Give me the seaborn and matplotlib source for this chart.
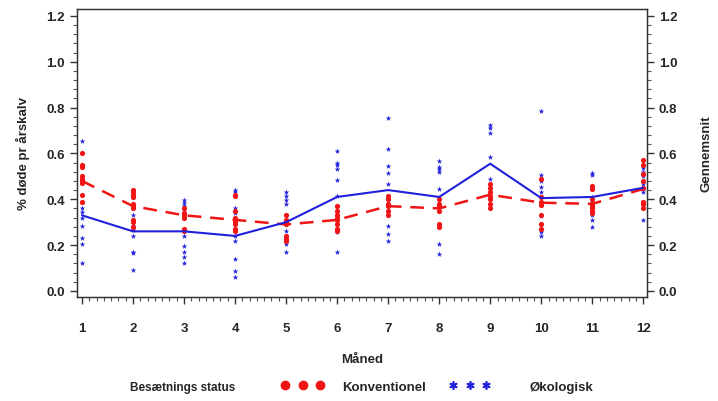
import numpy as np
import pandas as pd
import seaborn as sb
from matplotlib import pyplot as plt
from matplotlib.lines import Line2D
from matplotlib.ticker import AutoMinorLocator, FormatStrFormatter

# Data aflaest fra figuren.
maaneder = list(range(1, 13))

konv_gns = [0.48, 0.37, 0.33, 0.31, 0.29, 0.31, 0.37, 0.36, 0.42, 0.385, 0.38, 0.445]
oko_gns = [0.33, 0.26, 0.26, 0.24, 0.30, 0.41, 0.44, 0.41, 0.555, 0.405, 0.41, 0.45]

# Enkelte besaetninger pr maaned.
konv_punkter = [
    [0.60, 0.55, 0.54, 0.50, 0.49, 0.48, 0.47, 0.42, 0.39],
    [0.44, 0.43, 0.42, 0.41, 0.38, 0.37, 0.36, 0.31, 0.30, 0.28],
    [0.36, 0.34, 0.33, 0.32, 0.27, 0.26],
    [0.42, 0.415, 0.35, 0.32, 0.30, 0.29, 0.27, 0.26],
    [0.33, 0.31, 0.30, 0.29, 0.24, 0.225, 0.22],
    [0.37, 0.35, 0.33, 0.32, 0.31, 0.29, 0.27, 0.26],
    [0.415, 0.40, 0.38, 0.37, 0.35, 0.33],
    [0.40, 0.38, 0.37, 0.35, 0.29, 0.28],
    [0.465, 0.45, 0.43, 0.415, 0.40, 0.38, 0.36],
    [0.49, 0.41, 0.39, 0.375, 0.33, 0.29, 0.27],
    [0.46, 0.445, 0.40, 0.38, 0.37, 0.36, 0.35, 0.34],
    [0.57, 0.55, 0.51, 0.48, 0.45, 0.39, 0.38, 0.36],
]
oko_punkter = [
    [0.655, 0.39, 0.36, 0.345, 0.32, 0.285, 0.23, 0.205, 0.12],
    [0.41, 0.36, 0.33, 0.285, 0.265, 0.24, 0.17, 0.165, 0.09],
    [0.395, 0.385, 0.37, 0.355, 0.34, 0.27, 0.24, 0.195, 0.17, 0.15, 0.12],
    [0.44, 0.43, 0.36, 0.34, 0.27, 0.24, 0.22, 0.14, 0.085, 0.06],
    [0.43, 0.415, 0.395, 0.38, 0.33, 0.31, 0.29, 0.26, 0.205, 0.17],
    [0.61, 0.56, 0.55, 0.53, 0.485, 0.415, 0.37, 0.255, 0.17],
    [0.755, 0.62, 0.545, 0.515, 0.465, 0.40, 0.285, 0.25, 0.22],
    [0.565, 0.54, 0.53, 0.52, 0.445, 0.36, 0.205, 0.16],
    [0.725, 0.71, 0.69, 0.585, 0.49],
    [0.785, 0.505, 0.48, 0.455, 0.43, 0.325, 0.265, 0.255, 0.24],
    [0.515, 0.505, 0.46, 0.41, 0.39, 0.33, 0.31, 0.28],
    [0.535, 0.52, 0.50, 0.465, 0.45, 0.43, 0.31],
]

ROED = '#f01414'
BLAA = '#2020dc'


def til_tabel(punkter, navn):
    raekker = []
    for m, vals in zip(maaneder, punkter):
        for v in vals:
            raekker.append({'Maaned': m, 'Andel': v, 'Status': navn})
    return pd.DataFrame(raekker)


df = pd.concat([
    til_tabel(oko_punkter, 'Økologisk'),
    til_tabel(konv_punkter, 'Konventionel'),
])

sb.set_style('ticks')
plt.rcParams['font.family'] = ['Liberation Sans', 'DejaVu Sans']
plt.rcParams['font.weight'] = 'bold'
plt.rcParams['axes.labelweight'] = 'bold'

fig = plt.figure(figsize=(7.18, 4.02), dpi=100)
ax = fig.add_axes([0.107, 0.259, 0.794, 0.716])

# Punkter.
sb.scatterplot(
    data=df[df['Status'] == 'Økologisk'], x='Maaned', y='Andel',
    color=BLAA, marker='*', s=18, linewidth=0, ax=ax, legend=False, zorder=3
)
sb.scatterplot(
    data=df[df['Status'] == 'Konventionel'], x='Maaned', y='Andel',
    color=ROED, marker='o', s=14, linewidth=0, ax=ax, legend=False, zorder=3
)

# Gennemsnit.
sb.lineplot(x=maaneder, y=konv_gns, color=ROED, lw=1.8,
            linestyle=(0, (5.5, 3.5)), ax=ax, zorder=4)
sb.lineplot(x=maaneder, y=oko_gns, color=BLAA, lw=1.5, ax=ax, zorder=5)

ax.set_xlim(0.9, 12.07)
ax.set_ylim(-0.026, 1.23)
ax.set_xticks(maaneder)
ax.set_yticks(np.arange(0, 1.21, 0.2))
ax.yaxis.set_major_formatter(FormatStrFormatter('%.1f'))
ax.xaxis.set_minor_locator(AutoMinorLocator(7))
ax.yaxis.set_minor_locator(AutoMinorLocator(5))
ax.tick_params(which='major', length=5, width=1, labelsize=9.5, color='#333333')
ax.tick_params(which='minor', length=3, width=0.8, color='#555555')
ax.tick_params(axis='x', pad=13)
ax.set_xlabel('Måned', fontsize=9.5, labelpad=14)
ax.set_ylabel('% døde pr årskalv', fontsize=9.5, labelpad=12)
for s in ax.spines.values():
    s.set_color('#333333')
    s.set_linewidth(1)

ax2 = ax.twinx()
ax2.set_ylim(ax.get_ylim())
ax2.set_yticks(np.arange(0, 1.21, 0.2))
ax2.yaxis.set_major_formatter(FormatStrFormatter('%.1f'))
ax2.yaxis.set_minor_locator(AutoMinorLocator(5))
ax2.tick_params(which='major', length=5, width=1, labelsize=9.5, color='#333333')
ax2.tick_params(which='minor', length=3, width=0.8, color='#555555')
ax2.set_ylabel('Gennemsnit', fontsize=9.5, labelpad=17)
for s in ax2.spines.values():
    s.set_color('#333333')

# Forklaring.
fig.text(0.181, 0.035, 'Besætnings status', fontsize=8.5, va='center')
leg_konv = fig.legend(
    [Line2D([0], [0], ls='none', marker='o', color=ROED, markersize=6)],
    ['Konventionel'], loc='center left',
    bbox_to_anchor=(0.392, 0.035), numpoints=3, frameon=False,
    fontsize=9.5, handlelength=3.25, handletextpad=1.36,
    borderpad=0, borderaxespad=0
)
fig.legend(
    [Line2D([0], [0], ls='none', marker=(6, 2, 0), color=BLAA,
            markersize=6, markeredgewidth=1.2)],
    ['Økologisk'], loc='center left',
    bbox_to_anchor=(0.626, 0.035), numpoints=3, frameon=False,
    fontsize=9.5, handlelength=3.1, handletextpad=2.95,
    borderpad=0, borderaxespad=0
)

fig.savefig('out.png', dpi=100)
